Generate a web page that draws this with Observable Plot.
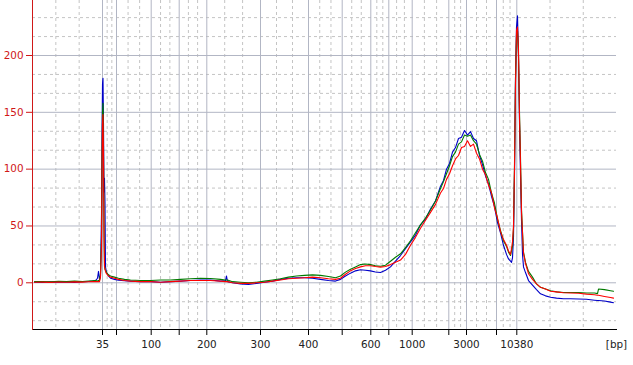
<!DOCTYPE html>
<html><head><meta charset="utf-8">
<script src="https://cdn.jsdelivr.net/npm/d3@7"></script>
<script src="https://cdn.jsdelivr.net/npm/@observablehq/plot@0.6"></script>
<style>html,body{margin:0;padding:0;background:#fff;}</style>
</head><body><div id="chart"></div>
<script>
// migration position (arbitrary units along the run)
const pos = [
  34, 42, 50, 58, 66, 74, 82, 88, 92, 95,
  97, 98, 99, 100, 101, 101.5, 102, 102.5, 103, 103.5,
  104, 104.5, 105, 106, 108, 110, 114, 118, 124, 130,
  140, 150, 160, 170, 180, 190, 200, 210, 220, 225,
  226, 227, 232, 240, 248, 256, 264, 272, 280, 288,
  296, 304, 312, 320, 328, 335, 340, 345, 350, 355,
  360, 365, 370, 375, 380, 385, 390, 395, 400, 405,
  410, 415, 420, 425, 430, 435, 440, 443, 446, 449,
  452, 455, 458, 461, 464, 467, 470, 473, 476, 479,
  482, 485, 488, 491, 494, 497, 500, 503, 506, 508,
  510, 511, 512, 513, 514, 515, 516, 517, 518, 519,
  520, 521, 522, 523, 525, 528, 532, 536, 540, 545,
  550, 556, 563, 570, 578, 586, 594, 597, 598, 604,
  610, 613
];
const blue = [
  0.5, 0.3, 0.8, 0.5, 0.7, 0.4, 0.9, 1.2, 1.5, 2,
  4, 10, 3, 6, 60, 130, 175, 180, 140, 80,
  92, 70, 14, 9, 6, 4, 3, 2.2, 1.8, 1.5,
  1, 1, 0.5, 1, 1.5, 2, 2.5, 2.5, 1.5, 2,
  6, 1, 0, -1, -1.5, -0.5, 0.5, 1.5, 3, 4,
  4.5, 4.5, 4, 3, 2, 1.5, 3, 6, 8.5, 10.5,
  11.5, 11, 10.5, 9.5, 9, 11, 14, 19, 24, 30,
  36, 42, 51, 56, 65, 72, 85, 90, 100, 105,
  115, 119, 127, 128, 134, 130, 133, 127, 125, 112,
  104, 94, 87, 76, 67, 53, 44, 33, 25, 21,
  19, 18, 22, 40, 95, 180, 225, 235, 200, 140,
  95, 55, 25, 14, 9, 2, -2, -6, -9.7, -11.5,
  -12.7, -13.5, -14, -14, -14.2, -14.5, -15.3, -15.6, -15.6, -16,
  -17, -17.5
];
const green = [
  1, 1.2, 0.8, 1.3, 1, 1.5, 1.2, 1.6, 1.8, 2,
  1.5, 2, 2, 8, 40, 110, 150, 158, 120, 50,
  15, 12, 11, 9, 7, 6, 5, 4, 3, 2.5,
  2, 2, 2.5, 2.5, 3, 3.5, 4, 3.8, 3, 2.5,
  2.5, 2.5, 1, 0.5, 0, 0.5, 1.5, 2.5, 3.5, 5,
  6, 6.5, 7, 6.5, 5.5, 4.5, 6, 9.4, 12, 14,
  16, 16.5, 16, 15, 14.5, 15.5, 19, 22.5, 25.5, 31,
  37, 44, 51, 57, 64, 72, 83, 89, 96, 103,
  111, 115, 122, 124, 130, 129, 130, 125, 122, 113,
  107, 97, 91, 79, 70, 56, 46, 37, 32, 27,
  24, 28, 32, 48, 105, 180, 218, 222, 200, 150,
  110, 65, 45, 27, 18, 10, 5, -1, -4, -5.5,
  -7, -8, -8.5, -8.5, -8.5, -9, -9, -9.5, -5.5, -6,
  -7, -7.5
];
const red = [
  0.5, 0.6, 0.4, 0.7, 0.5, 0.8, 0.6, 0.9, 1, 1,
  1, 1, 1, 5, 32, 100, 140, 148, 110, 40,
  14, 12, 10, 8, 6, 5, 4, 3, 2, 1.5,
  1, 1, 0.5, 1, 1.5, 2, 2, 2, 1.5, 1,
  1, 1, 0, -0.5, -0.5, 0, 0.5, 1.5, 2.5, 3.5,
  4, 4.5, 5, 4.5, 3.5, 3, 4, 7.5, 10.5, 12.5,
  14, 15, 15, 14.3, 13.8, 14.4, 16, 18, 20, 25,
  33, 40, 48, 55, 62, 69, 79, 83, 91, 96,
  103, 109, 112, 119, 120, 125, 120, 122, 114, 109,
  100, 95, 86, 79, 66, 57, 45, 38, 33, 28,
  25, 30, 36, 50, 100, 175, 222, 225, 205, 145,
  105, 62, 44, 26, 17, 8, 3, -1, -4, -5.5,
  -7.4, -8, -8.8, -9, -9.2, -10, -10.5, -11, -11, -12,
  -13, -13.5
];
// ladder fragment positions along the run, and their sizes / labels
const ladderPos = [102, 116, 150.7, 178.7, 206.3, 260, 308, 341.7, 370.3, 388.3, 411.7, 448.3, 466, 496, 516.3];
const ladderBp = [35, 50, 100, 150, 200, 300, 400, 500, 600, 700, 1000, 2000, 3000, 7000, 10380];
const ladderLabels = ["35", "", "100", "", "200", "300", "400", "", "600", "", "1000", "", "3000", "", "10380"];
const yTicks = [0, 50, 100, 150, 200];
const xUnit = "[bp]";

const xDomain = [32, 616];
const yDomain = [-41.1, 248.4];

// minor grid: each interval split in three
const bounds = [xDomain[0], ...ladderPos, xDomain[1]];
const minorX = [];
for (let i = 0; i < bounds.length - 1; i++) {
  const a = bounds[i], b = bounds[i + 1];
  minorX.push(a + (b - a) / 3, a + 2 * (b - a) / 3);
}
const minorY = [];
for (let v = -50; v <= 250; v += 50) {
  minorY.push(v + 50 / 3, v + 100 / 3);
}
const minorYIn = minorY.filter(v => v > yDomain[0] && v < yDomain[1]);

const series = [["blue", blue, "#0000c8"], ["green", green, "#007a00"], ["red", red, "#ff0000"]];
const rows = [];
for (const [name, vals] of series) pos.forEach((p, i) => rows.push({name, pos: p, v: vals[i]}));

const labelMap = new Map(ladderPos.map((p, i) => [p, ladderLabels[i]]));
const axisRed = "#d01818";

const chart = Plot.plot({
  width: 633, height: 365,
  marginLeft: 32, marginRight: 17, marginTop: 0, marginBottom: 36,
  style: {fontFamily: "DejaVu Sans, Verdana, sans-serif", fontSize: "10.4px", background: "#fff"},
  x: {type: "linear", domain: xDomain},
  y: {domain: yDomain},
  marks: [
    Plot.ruleX(minorX, {stroke: "#c4c4c4", strokeDasharray: "3,3", strokeWidth: 1}),
    Plot.ruleY(minorYIn, {stroke: "#c4c4c4", strokeDasharray: "3,3", strokeWidth: 1}),
    Plot.ruleX(ladderPos, {stroke: "#b2b6c4", strokeWidth: 1}),
    Plot.ruleY(yTicks, {stroke: "#b2b6c4", strokeWidth: 1}),
    ...series.map(([name, , color]) =>
      Plot.line(rows.filter(d => d.name === name), {x: "pos", y: "v", stroke: color, strokeWidth: 1.1})),
    Plot.frame({anchor: "bottom", stroke: "#000"}),
    Plot.frame({anchor: "left", stroke: axisRed}),
    Plot.axisX(ladderPos, {tickFormat: d => labelMap.get(d), tickSize: 6, tickPadding: 5, stroke: "#000", fill: "#222", label: null}),
    Plot.axisX([xDomain[1]], {tickFormat: () => xUnit, tickSize: 0, tickPadding: 11, fill: "#222", label: null}),
    Plot.axisY(yTicks, {tickSize: 6, tickPadding: 3, stroke: axisRed, fill: axisRed, label: null})
  ]
});
document.getElementById("chart").appendChild(chart);
</script>
</body></html>
